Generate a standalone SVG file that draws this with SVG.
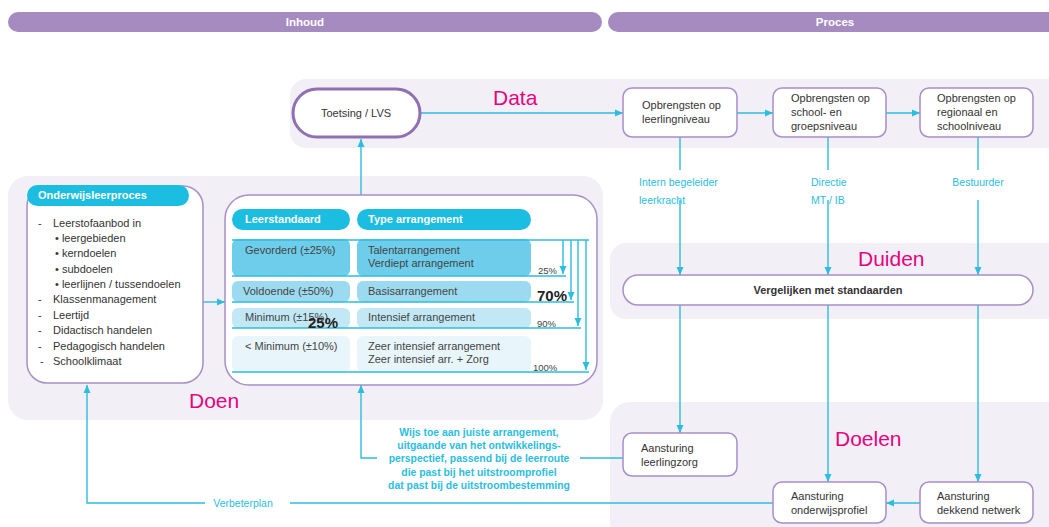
<svg xmlns="http://www.w3.org/2000/svg" width="1049" height="527" viewBox="0 0 1049 527">
<style>
text{font-family:"Liberation Sans",Arial,sans-serif}
.bar{fill:#a68bc1}
.bart{fill:#fff;font-size:11.5px;font-weight:bold;text-anchor:middle}
.panel{fill:#f2eff7}
.node{fill:#fff;stroke:#a88fc6;stroke-width:1.5}
.nt{fill:#333;font-size:11px}
.big{fill:#e5047e;font-size:21px}
.cy{stroke:#2cbde0;stroke-width:1.4;fill:none}
.lab{fill:#2cbde0;font-size:10.5px}
.pill{fill:#1bbde0}
.pt{fill:#fff;font-size:11px;font-weight:bold}
.lt{fill:#333;font-size:11px}
.tt{fill:#444;font-size:11px}
.pc{fill:#444;font-size:9.5px}
.ov{fill:#222;font-size:15px;font-weight:bold}
.wt{fill:#2cbde0;font-size:10.4px;font-weight:bold;text-anchor:middle}
</style>
<defs>
<marker id="ah" markerWidth="8" markerHeight="8" refX="8" refY="4" orient="auto" markerUnits="userSpaceOnUse">
<path d="M0,0.5 L8,4 L0,7.5 z" fill="#2cbde0"/>
</marker>
</defs>

<g id="headers">
<rect class="bar" x="8" y="12" width="594" height="20" rx="10"/>
<text class="bart" x="305" y="26">Inhoud</text>
<rect class="bar" x="608" y="12" width="460" height="20" rx="10"/>
<text class="bart" x="835" y="26">Proces</text>
</g>

<g id="panels">
<rect class="panel" x="290" y="79" width="780" height="69" rx="16"/>
<rect class="panel" x="8" y="176" width="595" height="244" rx="20"/>
<rect class="panel" x="610" y="243" width="460" height="76" rx="16"/>
<rect class="panel" x="610" y="402" width="460" height="140" rx="20"/>
<text class="big" x="493" y="105">Data</text>
<text class="big" x="189" y="408">Doen</text>
<text class="big" x="858" y="266" font-size="22">Duiden</text>
<text class="big" x="835" y="446" font-size="22">Doelen</text>
</g>

<g id="connectors">
<path class="cy" d="M420,113 H623" marker-end="url(#ah)"/>
<path class="cy" d="M737,113 H773" marker-end="url(#ah)"/>
<path class="cy" d="M886,113 H920" marker-end="url(#ah)"/>
<path class="cy" d="M680,137 V170 M680,200 V275" marker-end="url(#ah)"/>
<path class="cy" d="M828,137 V170 M828,200 V275" marker-end="url(#ah)"/>
<path class="cy" d="M978,137 V170 M978,200 V275" marker-end="url(#ah)"/>
<path class="cy" d="M680,305 V433" marker-end="url(#ah)"/>
<path class="cy" d="M828,305 V482" marker-end="url(#ah)"/>
<path class="cy" d="M978,305 V482" marker-end="url(#ah)"/>
<path class="cy" d="M920,503 H886" marker-end="url(#ah)"/>
<path class="cy" d="M773,503 H290"/>
<path class="cy" d="M205,503 H87 V385" marker-end="url(#ah)"/>
<path class="cy" d="M623,458 H580"/>
<path class="cy" d="M377,458 H361 V385" marker-end="url(#ah)"/>
<path class="cy" d="M361,195 V139" marker-end="url(#ah)"/>
<path class="cy" d="M203,302 H225" marker-end="url(#ah)"/>
<text class="lab" x="639" y="186">Intern begeleider</text>
<text class="lab" x="639" y="204">leerkracht</text>
<text class="lab" x="811" y="186">Directie</text>
<text class="lab" x="811" y="204">MT / IB</text>
<text class="lab" x="978" y="186" text-anchor="middle">Bestuurder</text>
<text class="lab" x="243" y="507" text-anchor="middle">Verbeterplan</text>
<text class="wt" x="479" y="436">Wijs toe aan juiste arrangement,</text>
<text class="wt" x="479" y="449">uitgaande van het ontwikkelings-</text>
<text class="wt" x="479" y="462">perspectief, passend bij de leerroute</text>
<text class="wt" x="479" y="476">die past bij het uitstroomprofiel</text>
<text class="wt" x="479" y="489">dat past bij de uitstroombestemming</text>
</g>

<g id="toetsing">
<rect x="293" y="89" width="127" height="48" rx="24" fill="#fff" stroke="#8f70b2" stroke-width="3"/>
<text class="nt" x="356" y="117" text-anchor="middle" font-size="10.5">Toetsing / LVS</text>
</g>

<g id="opbrengsten-leerling">
<rect class="node" x="623" y="88" width="114" height="49" rx="9"/>
<text class="nt" x="642" y="109">Opbrengsten op</text>
<text class="nt" x="642" y="123">leerlingniveau</text>
</g>

<g id="opbrengsten-school">
<rect class="node" x="773" y="88" width="113" height="49" rx="9"/>
<text class="nt" x="791" y="102">Opbrengsten op</text>
<text class="nt" x="791" y="116">school- en</text>
<text class="nt" x="791" y="130">groepsniveau</text>
</g>

<g id="opbrengsten-regionaal">
<rect class="node" x="920" y="88" width="113" height="49" rx="9"/>
<text class="nt" x="937" y="102">Opbrengsten op</text>
<text class="nt" x="937" y="116">regionaal en</text>
<text class="nt" x="937" y="130">schoolniveau</text>
</g>

<g id="vergelijken">
<rect class="node" x="623" y="275" width="410" height="30" rx="15"/>
<text class="nt" x="828" y="294" text-anchor="middle" font-weight="bold">Vergelijken met standaarden</text>
</g>

<g id="aansturing-leerlingzorg">
<rect class="node" x="623" y="433" width="114" height="43" rx="9"/>
<text class="nt" x="641" y="452">Aansturing</text>
<text class="nt" x="641" y="466">leerlingzorg</text>
</g>

<g id="aansturing-onderwijsprofiel">
<rect class="node" x="773" y="482" width="113" height="41" rx="9"/>
<text class="nt" x="791" y="500">Aansturing</text>
<text class="nt" x="791" y="514">onderwijsprofiel</text>
</g>

<g id="aansturing-netwerk">
<rect class="node" x="920" y="482" width="113" height="41" rx="9"/>
<text class="nt" x="937" y="500">Aansturing</text>
<text class="nt" x="937" y="514">dekkend netwerk</text>
</g>

<g id="onderwijsleerproces">
<rect class="node" x="27" y="186" width="176" height="197" rx="20"/>
<rect class="pill" x="27" y="185" width="162" height="21" rx="10.5"/>
<text class="pt" x="38" y="199">Onderwijsleerproces</text>
<text class="lt" x="38" y="227">-</text><text class="lt" x="53" y="227">Leerstofaanbod in</text>
<text class="lt" x="55" y="242">• leergebieden</text>
<text class="lt" x="55" y="257">• kerndoelen</text>
<text class="lt" x="55" y="273">• subdoelen</text>
<text class="lt" x="55" y="288">• leerlijnen / tussendoelen</text>
<text class="lt" x="38" y="303">-</text><text class="lt" x="53" y="303" fill="#1f1f1f">Klassenmanagement</text>
<text class="lt" x="38" y="319">-</text><text class="lt" x="53" y="319">Leertijd</text>
<text class="lt" x="38" y="334">-</text><text class="lt" x="53" y="334" fill="#1f1f1f">Didactisch handelen</text>
<text class="lt" x="38" y="350">-</text><text class="lt" x="53" y="350" fill="#1f1f1f">Pedagogisch handelen</text>
<text class="lt" x="40" y="365">-</text><text class="lt" x="53" y="365" fill="#1f1f1f">Schoolklimaat</text>
</g>

<g id="tabel">
<rect class="node" x="225" y="195" width="372" height="190" rx="24"/>
<rect class="pill" x="232" y="209" width="118" height="21" rx="10.5"/>
<rect class="pill" x="357" y="209" width="174" height="21" rx="10.5"/>
<text class="pt" x="245" y="223">Leerstandaard</text>
<text class="pt" x="368" y="223">Type arrangement</text>
<rect x="232" y="239" width="118" height="37" rx="6" fill="#6dcdea"/>
<rect x="357" y="239" width="174" height="37" rx="6" fill="#6dcdea"/>
<rect x="232" y="281" width="118" height="21" rx="6" fill="#9cdbef"/>
<rect x="357" y="281" width="174" height="21" rx="6" fill="#9cdbef"/>
<rect x="232" y="308" width="118" height="20" rx="6" fill="#c3e8f5"/>
<rect x="357" y="308" width="174" height="20" rx="6" fill="#c3e8f5"/>
<rect x="232" y="336" width="118" height="36" rx="6" fill="#e8f6fb"/>
<rect x="357" y="336" width="174" height="36" rx="6" fill="#e8f6fb"/>
<path class="cy" d="M232,240 H589 M232,276 H566 M232,302 H574 M232,328 H581 M232,372 H589"/>
<path class="cy" d="M563,240 V274" marker-end="url(#ah)"/>
<path class="cy" d="M571,240 V300" marker-end="url(#ah)"/>
<path class="cy" d="M578,240 V326" marker-end="url(#ah)"/>
<path class="cy" d="M586,240 V370" marker-end="url(#ah)"/>
<text class="tt" x="245" y="254">Gevorderd (±25%)</text>
<text class="tt" x="368" y="254">Talentarrangement</text>
<text class="tt" x="368" y="267">Verdiept arrangement</text>
<text class="tt" x="243" y="295">Voldoende (±50%)</text>
<text class="tt" x="368" y="295">Basisarrangement</text>
<text class="tt" x="245" y="321">Minimum (±15%)</text>
<text class="tt" x="368" y="321">Intensief arrangement</text>
<text class="tt" x="245" y="350">&lt; Minimum (±10%)</text>
<text class="tt" x="368" y="350">Zeer intensief arrangement</text>
<text class="tt" x="368" y="363">Zeer intensief arr. + Zorg</text>
<text class="pc" x="538" y="274">25%</text>
<text class="ov" x="537" y="301">70%</text>
<text class="pc" x="537" y="327">90%</text>
<text class="pc" x="533" y="371">100%</text>
<text class="ov" x="308" y="328">25%</text>
</g>
</svg>
